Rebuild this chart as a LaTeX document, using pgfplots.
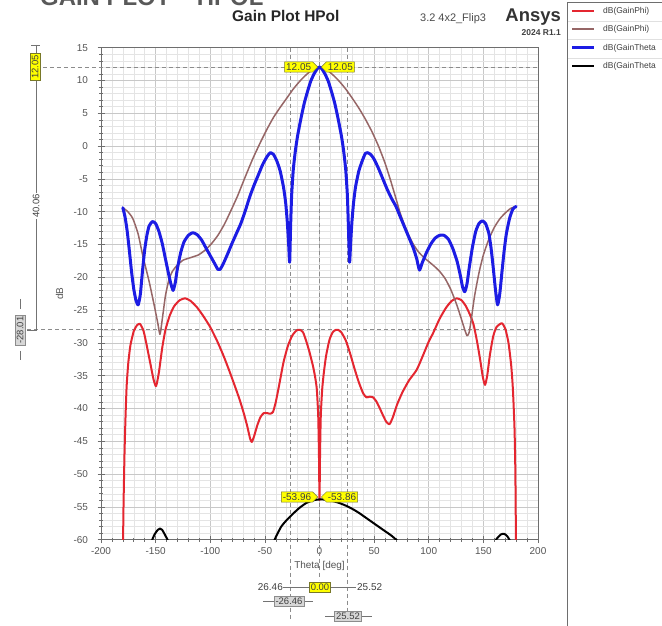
\documentclass[border=0pt]{standalone}
\usepackage{fontspec}
\setmainfont{Liberation Sans}
\usepackage{pgfplots}
\usepackage{pgfplotstable}
\pgfplotsset{compat=1.18}
\usetikzlibrary{shapes.symbols}

\definecolor{cred}{RGB}{228,38,48}
\definecolor{cbrown}{RGB}{150,102,102}
\definecolor{cblue}{RGB}{28,28,228}
\definecolor{cgrid}{RGB}{200,200,200}
\definecolor{cminor}{RGB}{228,228,228}
\definecolor{ctick}{RGB}{85,85,85}
\definecolor{caxis}{RGB}{110,110,110}
\definecolor{cdash}{RGB}{140,140,140}
\definecolor{cyel}{RGB}{255,255,0}
\definecolor{cyelb}{RGB}{120,120,40}
\definecolor{cgbox}{RGB}{215,215,215}

\pgfplotstableread{
t v
-180 -9.4
-178 -10.8
-176 -13.0
-174 -16.0
-172 -19.2
-170 -21.8
-168 -23.5
-166 -24.2
-164 -22.6
-162 -19.0
-160 -15.8
-158 -13.6
-156 -12.2
-153 -11.5
-150 -11.8
-147 -13.0
-144 -14.8
-141 -17.2
-138 -19.6
-136 -21.0
-134 -22.0
-132 -20.8
-130 -18.6
-127 -16.2
-124 -14.6
-120 -13.6
-116 -13.2
-112 -13.5
-108 -14.3
-104 -15.5
-100 -16.7
-96 -17.9
-93 -18.8
-91 -18.8
-88 -17.9
-84 -16.4
-80 -14.8
-76 -13.3
-72 -11.8
-68 -9.9
-64 -7.8
-60 -6.0
-56 -4.4
-52 -2.8
-48 -1.6
-45 -1.0
-42 -1.3
-39 -2.3
-36 -3.8
-33 -6.2
-31 -8.6
-29.5 -11.5
-28.3 -14.8
-27.3 -17.7
-26.5 -12.5
-25.5 -7.5
-24 -3.6
-22 -0.6
-20 1.6
-17 4.2
-14 6.5
-11 8.3
-8 9.9
-5 11.0
-2 11.8
0 12.05
2 11.8
5 11.0
8 9.9
11 8.3
14 6.5
17 4.2
20 1.6
22 -0.6
24 -3.6
25.5 -7.5
26.5 -12.5
27.5 -17.7
28.5 -14.8
29.7 -11.5
31.2 -8.6
33 -6.2
36 -3.8
39 -2.3
42 -1.1
44 -1.0
47 -1.3
50 -2.0
54 -3.4
58 -5.0
62 -6.6
66 -8.0
70 -9.2
74 -10.8
78 -12.4
82 -14.0
86 -15.6
89 -17.2
91.5 -18.9
94 -17.8
98 -16.2
102 -14.9
106 -14.0
110 -13.6
114 -13.6
118 -14.2
122 -15.6
126 -17.6
129 -19.8
131 -21.5
133 -22.2
135 -21.0
137 -18.6
140 -15.4
143 -13.0
146 -11.8
149 -11.4
152 -11.8
155 -13.3
157 -15.5
159 -18.5
161 -21.8
163 -24.2
165 -22.5
167 -19.2
169 -16.0
171 -13.4
174 -11.0
177 -9.6
180 -9.2
}\tblBlue

\pgfplotstableread{
t v
-180 -9.4
-176 -9.9
-171 -11.0
-166 -13.4
-161.5 -16.9
-156 -20.6
-151 -24.5
-148 -27.0
-146 -28.7
-144 -26.5
-141 -22.8
-138 -20.5
-135 -19.2
-131 -18.3
-125 -17.4
-118 -17.0
-111 -16.6
-105 -15.9
-99 -14.9
-93 -13.6
-87 -11.9
-81 -9.8
-75 -7.6
-68 -4.7
-61 -1.9
-54 0.6
-48 2.6
-42 4.4
-36 5.9
-30 7.3
-24 8.7
-18 9.9
-12 10.9
-6 11.7
0 12.05
6 11.7
12 10.9
18 9.9
24 8.7
30 7.3
36 5.8
42 4.1
48 2.2
54 0.0
60 -2.6
65 -5.2
70 -8.0
74 -10.3
78 -12.1
82 -13.7
86 -15.0
90 -16.0
95 -16.9
100 -17.6
105 -18.3
110 -19.1
115 -20.2
120 -21.8
125 -23.9
129 -25.9
132 -27.5
135 -28.9
137 -28.4
139 -26.3
142 -22.8
146 -19.3
150 -16.6
155 -14.2
160 -12.4
165 -11.1
170 -10.2
175 -9.5
180 -9.2
}\tblBrown

\pgfplotstableread{
t v
-180 -64
-179.5 -56
-178.5 -47
-177.5 -41
-176.5 -36.5
-175 -33
-173 -30.3
-170 -28.2
-167 -27.3
-164.3 -27.1
-161 -28.2
-158 -30.5
-155 -33.0
-152 -35.5
-149.6 -36.6
-147 -34.5
-144 -30.8
-141 -28.0
-137 -25.8
-133 -24.4
-128 -23.5
-123 -23.2
-118 -23.6
-112 -24.6
-106 -26.0
-100 -27.6
-94 -29.6
-88 -31.9
-82 -34.5
-77 -36.8
-73 -38.7
-69 -40.9
-66 -42.8
-63.5 -44.6
-62 -45.1
-60 -44.3
-57 -42.6
-54 -41.3
-51 -40.7
-48 -40.7
-45 -40.8
-42.5 -40.5
-40 -39.0
-37 -36.5
-33 -33.0
-29 -30.5
-25 -28.9
-21 -28.1
-18 -28.0
-15 -28.4
-12 -29.8
-9 -31.5
-6 -33.5
-4 -35.2
-2.5 -37.0
-1.2 -41.0
-0.5 -47.0
0 -53.96
0.5 -47.0
1.2 -41.0
2.5 -37.0
4 -34.5
6 -32.0
9 -29.6
12 -28.4
15 -28.0
17 -28.0
20 -28.4
24 -29.6
28 -31.6
32 -33.9
36 -36.0
40 -37.7
43 -38.3
46 -38.2
49 -38.3
52 -38.9
55 -39.9
58 -41.0
61 -42.0
64 -42.4
67 -41.4
71 -39.4
76 -37.5
82 -35.7
89 -34.1
95 -31.8
100 -29.8
104 -28.5
110 -26.3
116 -24.6
121 -23.6
125.6 -23.2
130 -23.5
134 -24.4
138 -25.8
141 -27.2
144 -29.6
147 -32.5
149.5 -35.2
151.5 -36.4
153.5 -35.0
156 -31.8
159 -29.0
162 -27.6
166.8 -27.0
170 -27.8
173 -30.0
175.5 -33.5
177 -37.0
178.5 -43.0
179.3 -50.0
180 -64
}\tblRed

\pgfplotstableread{
t v
-180 -70
-165 -66
-158 -62.5
-154 -60.4
-151 -59.2
-148 -58.5
-146 -58.3
-144 -58.5
-141 -59.4
-138 -60.4
-134 -62.5
-120 -68
-100 -74
-70 -71
-55 -65
-45 -61.5
-40 -59.6
-35 -58.0
-30 -57.0
-24 -56.0
-18 -55.1
-12 -54.4
-6 -54.0
0 -53.86
6 -53.9
12 -54.1
18 -54.4
24 -54.8
30 -55.3
36 -55.9
42 -56.6
48 -57.3
54 -58.0
60 -58.7
66 -59.4
72 -60.3
78 -61.5
90 -64
120 -70
150 -64
158 -61.2
162 -59.9
166 -59.2
169 -59.1
172 -59.5
175 -60.4
178 -62
180 -63
}\tblBlack

\begin{document}
\begin{tikzpicture}
\useasboundingbox (0,0) rectangle (662bp,626bp);
\fill[white] (0,0) rectangle (662bp,626bp);
\begin{axis}[
  at={(101bp,86.3bp)}, anchor=south west,
  scale only axis, width=437bp, height=492bp,
  xmin=-200, xmax=200, ymin=-60, ymax=15,
  xtick={-200,-150,...,200}, ytick={-60,-55,...,15},
  minor x tick num=4, minor y tick num=4,
  grid=both,
  major grid style={draw=cgrid, line width=0.6bp},
  minor grid style={draw=cminor, line width=0.5bp},
  axis line style={draw=caxis, line width=0.8bp},
  tick style={draw=caxis, line width=0.6bp},
  major tick length=7bp, minor tick length=4bp,
  tick align=center,
  xtick pos=left, ytick pos=left,
  tick label style={font=\fontsize{10}{12}\selectfont, text=ctick},
  /pgf/number format/assume math mode=true,
  yticklabel style={xshift=-6bp},
  xticklabel style={yshift=-1bp},
  xlabel={Theta [deg]}, ylabel={dB},
  label style={font=\fontsize{10}{12}\selectfont, text=ctick},
  xlabel style={at={(axis description cs:0.5,-0.053)}, anchor=center},
  ylabel style={at={(axis description cs:-0.095,0.5)}, anchor=center},
  clip mode=individual,
  every axis plot/.append style={line join=round, line cap=round},
]
% marker guide lines
\draw[cdash, dashed, dash pattern=on 4bp off 3bp, line width=0.7bp] (axis cs:-259.5,12.05) -- (axis cs:200,12.05);
\draw[cdash, dashed, dash pattern=on 4bp off 3bp, line width=0.7bp] (axis cs:-267.7,-28.01) -- (axis cs:200,-28.01);
\draw[cdash, dashed, dash pattern=on 4bp off 3bp, line width=0.7bp] (axis cs:0,15) -- (axis cs:0,-66.1);
\draw[cdash, dashed, dash pattern=on 4bp off 3bp, line width=0.7bp] (axis cs:-26.46,15) -- (axis cs:-26.46,-72.5);
\draw[cdash, dashed, dash pattern=on 4bp off 3bp, line width=0.7bp] (axis cs:25.52,15) -- (axis cs:25.52,-72.5);

\addplot[cred, line width=2bp, smooth, tension=0.35] table[x=t,y=v] {\tblRed};
\addplot[cbrown, line width=1.5bp, smooth, tension=0.35] table[x=t,y=v] {\tblBrown};
\addplot[cblue, line width=3bp, smooth, tension=0.35] table[x=t,y=v] {\tblBlue};
\addplot[black, line width=2bp, smooth, tension=0.35] table[x=t,y=v] {\tblBlack};
\end{axis}

\begin{scope}[x=1bp,y=1bp]
% truncated slide heading at the top edge
\node[anchor=base west, inner sep=0, text=black!65, font=\bfseries\fontsize{24}{24}\selectfont] at (40,620) {GAIN PLOT -- HPOL};
% titles
\node[anchor=base west, inner sep=0, text=black!85, font=\bfseries\fontsize{15.5}{16}\selectfont] at (232,604) {Gain Plot HPol};
\node[anchor=base west, inner sep=0, text=black!70, font=\fontsize{11}{12}\selectfont] at (420,604) {3.2 4x2\_Flip3};
\node[anchor=base east, inner sep=0, text=black!80, font=\bfseries\fontsize{18.5}{19}\selectfont] at (561,604) {Ansys};
\node[anchor=base east, inner sep=0, text=black!75, font=\bfseries\fontsize{8.5}{9}\selectfont] at (561,590) {2024 R1.1};

% legend
\draw[caxis, line width=0.8bp, fill=white] (567,624) rectangle (665,-2);
\foreach \yy in {605,587,568} {\draw[black!12, line width=0.5bp] (568,\yy) -- (662,\yy);}
\draw[cred, line width=2.5bp] (572,615) -- (594,615);
\draw[cbrown, line width=1.5bp] (572,597) -- (594,597);
\draw[cblue, line width=3bp] (572,578) -- (594,578);
\draw[black, line width=2bp] (572,560) -- (594,560);
\begin{scope}[every node/.style={anchor=west, inner sep=0, text=black!75, font=\fontsize{8.5}{9}\selectfont}]
\node at (603,615) {dB(GainPhi)};
\node at (603,597) {dB(GainPhi)};
\node at (603,578) {dB(GainTheta};
\node at (603,560) {dB(GainTheta};
\end{scope}

% top and bottom markers
\begin{scope}[every node/.style={signal, fill=cyel, draw=cyelb, line width=0.5bp, inner sep=1.5bp, text=black!75, font=\fontsize{10}{11}\selectfont}]
\node[signal to=east, anchor=east] at (318,559) {12.05};
\node[signal to=west, anchor=west] at (321,559) {12.05};
\node[signal to=east, anchor=east] at (318,129) {-53.96};
\node[signal to=west, anchor=west] at (321,129) {-53.86};
\end{scope}

% left delta annotation
\draw[black!55, line width=0.7bp] (36,581) -- (36,296) -- (27,296);
\draw[black!55, line width=0.7bp] (31,581) -- (40,581);
\node[rotate=90, fill=cyel, draw=cyelb, line width=0.5bp, inner sep=1.5bp, text=black!75, font=\fontsize{9.5}{10}\selectfont] at (35,559) {12.05};
\node[rotate=90, fill=white, inner sep=1.5bp, text=black!75, font=\fontsize{9.5}{10}\selectfont] at (36,420) {40.06};
\draw[black!55, line width=0.7bp] (20,327) -- (20,317);
\draw[black!55, line width=0.7bp] (20,275) -- (20,266);
\node[rotate=90, fill=cgbox, draw=black!45, line width=0.5bp, inner sep=1.5bp, text=black!75, font=\fontsize{9.5}{10}\selectfont] at (20,296) {-28.01};

% bottom delta annotation
\draw[black!55, line width=0.7bp] (283,39) -- (356,39);
\node[anchor=east, inner sep=0, text=black!75, font=\fontsize{10}{11}\selectfont] at (283,39) {26.46};
\node[anchor=west, inner sep=0, text=black!75, font=\fontsize{10}{11}\selectfont] at (357,39) {25.52};
\node[fill=cyel, draw=cyelb, line width=0.5bp, inner sep=1.5bp, text=black!75, font=\fontsize{9.5}{10}\selectfont] at (320,39) {0.00};
\draw[black!55, line width=0.7bp] (263,25) -- (313,25);
\node[fill=cgbox, draw=black!45, line width=0.5bp, inner sep=1.5bp, text=black!75, font=\fontsize{9.5}{10}\selectfont] at (289,25) {-26.46};
\draw[black!55, line width=0.7bp] (325,10) -- (372,10);
\node[fill=cgbox, draw=black!45, line width=0.5bp, inner sep=1.5bp, text=black!75, font=\fontsize{9.5}{10}\selectfont] at (348,10) {25.52};
\end{scope}
\end{tikzpicture}
\end{document}
